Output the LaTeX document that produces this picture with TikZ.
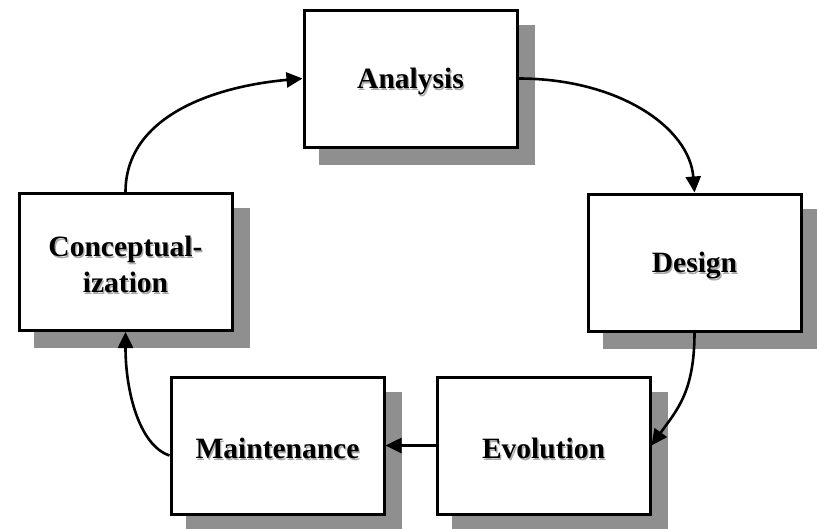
\documentclass[tikz,border=0pt]{standalone}
\usepackage{fontspec}
\setmainfont{Liberation Serif}
\usetikzlibrary{arrows.meta}
\definecolor{shadowgray}{RGB}{143,143,143}
\definecolor{textshade}{RGB}{170,170,170}
\newcommand{\stx}[1]{\rlap{\kern1.3pt\raisebox{-1.3pt}{\color{textshade}#1}}#1}
\pgfdeclarelayer{background}
\pgfsetlayers{background,main}
\tikzset{
  stagebox/.style={draw=black, line width=3pt, fill=white, minimum width=213pt, minimum height=137pt,
    inner sep=0pt, align=center},
  stagetext/.style={inner sep=0pt, align=center, font=\fontsize{29.5}{36}\selectfont\bfseries},
  flow/.style={line width=2.6pt, -{Triangle[length=16pt,width=15pt]}}
}
\begin{document}
\begin{tikzpicture}[x=1pt,y=-1pt]
\path[use as bounding box] (0,0) rectangle (817,528);
\node[stagebox, label={[stagetext,yshift=-4pt]center:\stx{Analysis}}] (a) at (410.5,78.5) {};
\node[stagebox, label={[stagetext,yshift=-3.5pt]center:{\stx{Conceptual-}\\\stx{ization}}}] (c) at (125.5,262) {};
\node[stagebox, label={[stagetext,yshift=-4pt]center:\stx{Design}}] (d) at (694.5,262.5) {};
\node[stagebox, label={[stagetext,yshift=-4pt]center:\stx{Evolution}}] (e) at (543.5,445.5) {};
\node[stagebox, label={[stagetext,yshift=-4pt]center:\stx{Maintenance}}] (m) at (277.5,445.5) {};
\begin{pgfonlayer}{background}
\foreach \n in {a,c,d,e,m}{
  \fill[shadowgray] ([shift={(16pt,-16pt)}]\n.south west) rectangle ([shift={(16pt,-16pt)}]\n.north east);
}
\end{pgfonlayer}
\draw[flow] (c.north) .. controls +(0,-75) and +(-90,8) .. (a.west);
\draw[flow] (a.east) .. controls +(100,0) and +(-5,-65) .. (d.north);
\draw[flow] (d.south) .. controls +(0,60) and +(25,-35) .. (e.east);
\draw[flow] (e.west) -- (m.east);
\draw[flow] ([yshift=-10pt]m.west) .. controls +(-30,-10) and +(0,60) .. (c.south);
\end{tikzpicture}
\end{document}
